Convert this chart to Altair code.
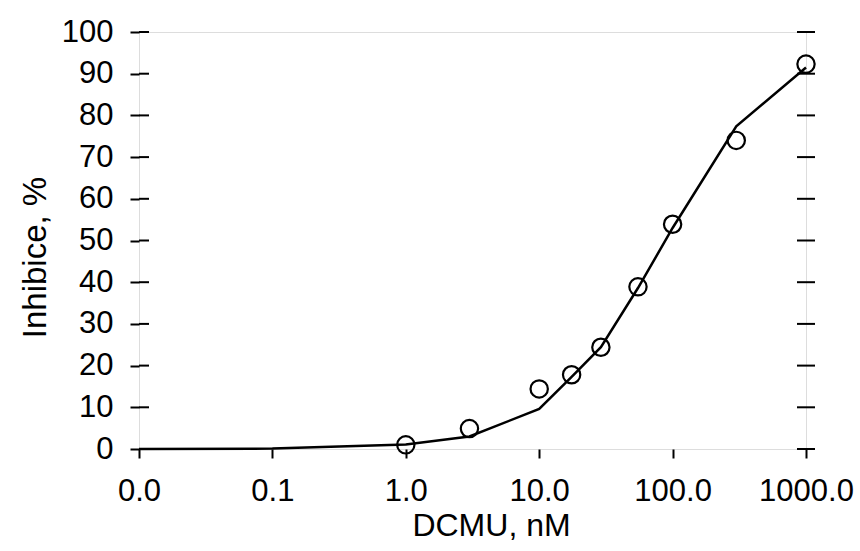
import altair as alt
import pandas as pd

# measured data points (DCMU concentration, nM) vs inhibition (%)
conc = [1, 3, 10, 17.5, 29, 55, 100, 300, 1000]
inhib = [1.0, 4.9, 14.4, 17.8, 24.4, 38.9, 53.9, 74.0, 92.3]

# fitted curve (polyline)
fit_conc = [0.01, 0.1, 1, 3, 10, 17.5, 29, 55, 100, 300, 1000]
fit_inhib = [0.0, 0.1, 1.1, 3.0, 9.6, 17.3, 24.4, 38.6, 53.0, 77.4, 91.5]

x_ticks = [0.01, 0.1, 1, 10, 100, 1000]
y_ticks = [0, 10, 20, 30, 40, 50, 60, 70, 80, 90, 100]

W, H = 667, 417
FONT = "Liberation Sans"

pts = pd.DataFrame({"c": conc, "i": inhib})
fit = pd.DataFrame({"c": fit_conc, "i": fit_inhib})
ticks = pd.DataFrame({"v": y_ticks})

xscale = alt.Scale(type="log", domain=[0.01, 1000], nice=False)
yscale = alt.Scale(domain=[0, 100], nice=False)

xaxis = alt.Axis(
    values=x_ticks, format=".1f", title="DCMU, nM", grid=False,
    domain=False, tickSize=9, tickWidth=2, tickColor="black",
    labelFont=FONT, labelFontSize=31, labelColor="black", labelPadding=18,
    labelFlush=False, labelOverlap=False,
    titleFont=FONT, titleFontSize=32, titleFontWeight="normal", titleColor="black",
    titleX=352, titleY=86, titleBaseline="alphabetic", titleAnchor="start", titleAlign="center",
)
yaxis = alt.Axis(
    values=y_ticks, format="d", title="Inhibice, %", grid=False,
    domain=False, tickSize=9, tickWidth=2, tickColor="black",
    labelFont=FONT, labelFontSize=31, labelColor="black", labelPadding=17,
    labelFlush=False, labelOverlap=False,
    titleFont=FONT, titleFontSize=33, titleFontWeight="normal", titleColor="black",
    titleAngle=270, titleX=-94, titleY=225, titleBaseline="alphabetic", titleAlign="center",
    titleAnchor="start",
)

line = alt.Chart(fit).mark_line(color="black", strokeWidth=2.5).encode(
    x=alt.X("c:Q", scale=xscale, axis=xaxis),
    y=alt.Y("i:Q", scale=yscale, axis=yaxis),
)

circles = alt.Chart(pts).mark_point(
    shape="circle", filled=False, color="black", size=300, strokeWidth=2.2, opacity=1
).encode(
    x=alt.X("c:Q", scale=xscale),
    y=alt.Y("i:Q", scale=yscale),
)

left_in = alt.Chart(ticks).mark_rule(color="black", strokeWidth=2).encode(
    y=alt.Y("v:Q", scale=yscale),
    x=alt.value(0), x2=alt.value(10),
)
right_ticks = alt.Chart(ticks).mark_rule(color="black", strokeWidth=2).encode(
    y=alt.Y("v:Q", scale=yscale),
    x=alt.value(W - 9), x2=alt.value(W + 9),
)

chart = alt.layer(left_in, right_ticks, line, circles).properties(
    width=W, height=H,
    autosize=alt.AutoSizeParams(type="none"),
    padding={"left": 139, "top": 32, "right": 54, "bottom": 102},
).configure_view(
    stroke="black", strokeWidth=2.5
).configure(background="white")

chart.save("out.html", embed_options={"renderer": "svg", "actions": False})
